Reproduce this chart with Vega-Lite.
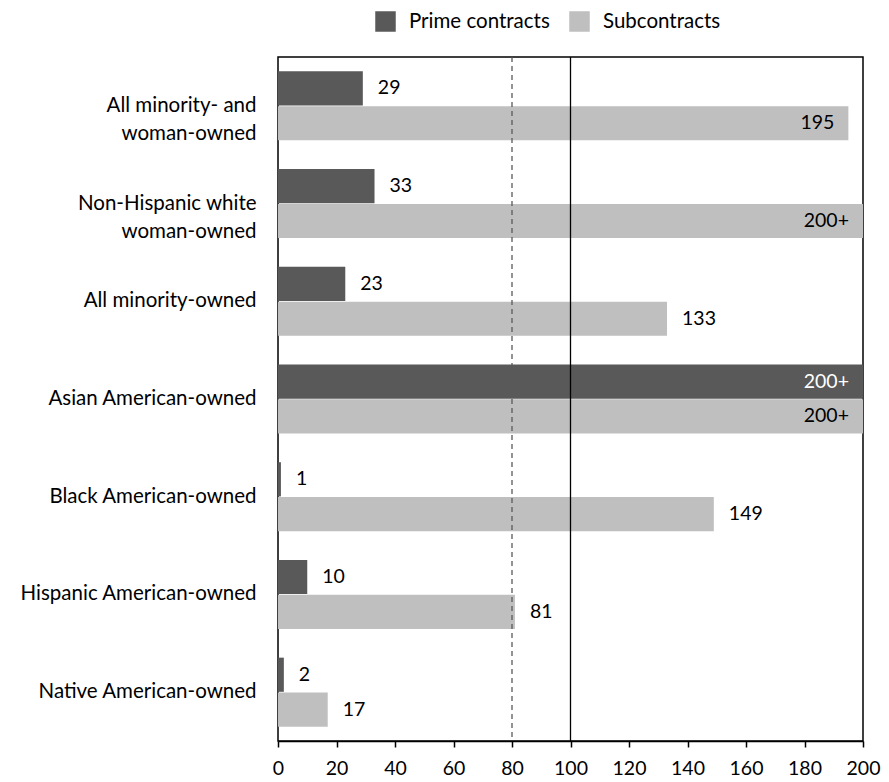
{
  "$schema": "https://vega.github.io/schema/vega-lite/v6.json",
  "autosize": {"type": "none"},
  "width": 585,
  "height": 684,
  "padding": {"left": 278, "top": 57, "right": 26, "bottom": 41},
  "background": "white",
  "config": {
    "font": "Lato",
    "view": {"stroke": "black", "strokeWidth": 1.5},
    "axis": {"labelFont": "Lato", "labelColor": "black", "grid": false}
  },
  "data": {
    "values": [
      {"category": "All minority- and|woman-owned", "type": "Prime contracts", "value": 29, "label": "29"},
      {"category": "All minority- and|woman-owned", "type": "Subcontracts", "value": 195, "label": "195"},
      {"category": "Non-Hispanic white|woman-owned", "type": "Prime contracts", "value": 33, "label": "33"},
      {"category": "Non-Hispanic white|woman-owned", "type": "Subcontracts", "value": 200, "label": "200+"},
      {"category": "All minority-owned", "type": "Prime contracts", "value": 23, "label": "23"},
      {"category": "All minority-owned", "type": "Subcontracts", "value": 133, "label": "133"},
      {"category": "Asian American-owned", "type": "Prime contracts", "value": 200, "label": "200+"},
      {"category": "Asian American-owned", "type": "Subcontracts", "value": 200, "label": "200+"},
      {"category": "Black American-owned ", "type": "Prime contracts", "value": 1, "label": "1"},
      {"category": "Black American-owned ", "type": "Subcontracts", "value": 149, "label": "149"},
      {"category": "Hispanic American-owned", "type": "Prime contracts", "value": 10, "label": "10"},
      {"category": "Hispanic American-owned", "type": "Subcontracts", "value": 81, "label": "81"},
      {"category": "Native American-owned", "type": "Prime contracts", "value": 2, "label": "2"},
      {"category": "Native American-owned", "type": "Subcontracts", "value": 17, "label": "17"}
    ]
  },
  "encoding": {
    "y": {
      "field": "category",
      "type": "nominal",
      "sort": null,
      "title": null,
      "scale": {"paddingInner": 0.294, "paddingOuter": 0.147},
      "axis": {
        "ticks": false,
        "domain": false,
        "labelPadding": 22,
        "labelFontSize": 20.5,
        "labelLineHeight": 28,
        "labelExpr": "split(datum.label, '|')",
        "labelLimit": 300
      }
    },
    "yOffset": {
      "field": "type",
      "type": "nominal",
      "sort": ["Prime contracts", "Subcontracts"],
      "scale": {"paddingInner": 0.02}
    }
  },
  "layer": [
    {
      "mark": {"type": "bar"},
      "encoding": {
        "x": {
          "field": "value",
          "type": "quantitative",
          "title": null,
          "scale": {"domain": [0, 200], "nice": false},
          "axis": {
            "values": [0, 20, 40, 60, 80, 100, 120, 140, 160, 180, 200],
            "tickSize": 6,
            "tickColor": "black",
            "domainColor": "black",
            "domainWidth": 1.5,
            "tickWidth": 1.5,
            "labelFontSize": 19.5,
            "labelPadding": 12,
            "labelFlush": false
          }
        },
        "color": {
          "field": "type",
          "type": "nominal",
          "scale": {"domain": ["Prime contracts", "Subcontracts"], "range": ["#595959", "#bfbfbf"]},
          "legend": {
            "title": null,
            "orient": "none",
            "direction": "horizontal",
            "legendX": 97,
            "legendY": -46,
            "symbolType": "square",
            "symbolSize": 420,
            "symbolStrokeWidth": 0,
            "labelFontSize": 20.5,
            "labelFont": "Lato",
            "labelColor": "black",
            "labelLimit": 300,
            "columnPadding": 19,
            "labelOffset": 13
          }
        }
      }
    },
    {
      "transform": [{"filter": "datum.value < 190"}],
      "mark": {"type": "text", "align": "left", "baseline": "middle", "dx": 15, "fontSize": 19.5, "color": "black"},
      "encoding": {
        "x": {"field": "value", "type": "quantitative"},
        "text": {"field": "label"}
      }
    },
    {
      "transform": [{"filter": "datum.value >= 190"}],
      "mark": {"type": "text", "align": "right", "baseline": "middle", "dx": -14, "fontSize": 19.5},
      "encoding": {
        "x": {"field": "value", "type": "quantitative"},
        "text": {"field": "label"},
        "color": {"condition": {"test": "datum.type === 'Prime contracts'", "value": "white"}, "value": "black"}
      }
    },
    {
      "data": {"values": [{"ref": 80}]},
      "mark": {"type": "rule", "strokeDash": [5, 4], "color": "#595959", "strokeWidth": 1.3},
      "encoding": {"x": {"field": "ref", "type": "quantitative"}, "y": null, "yOffset": null}
    },
    {
      "data": {"values": [{"ref": 100}]},
      "mark": {"type": "rule", "color": "black", "strokeWidth": 1.3},
      "encoding": {"x": {"field": "ref", "type": "quantitative"}, "y": null, "yOffset": null}
    }
  ]
}
